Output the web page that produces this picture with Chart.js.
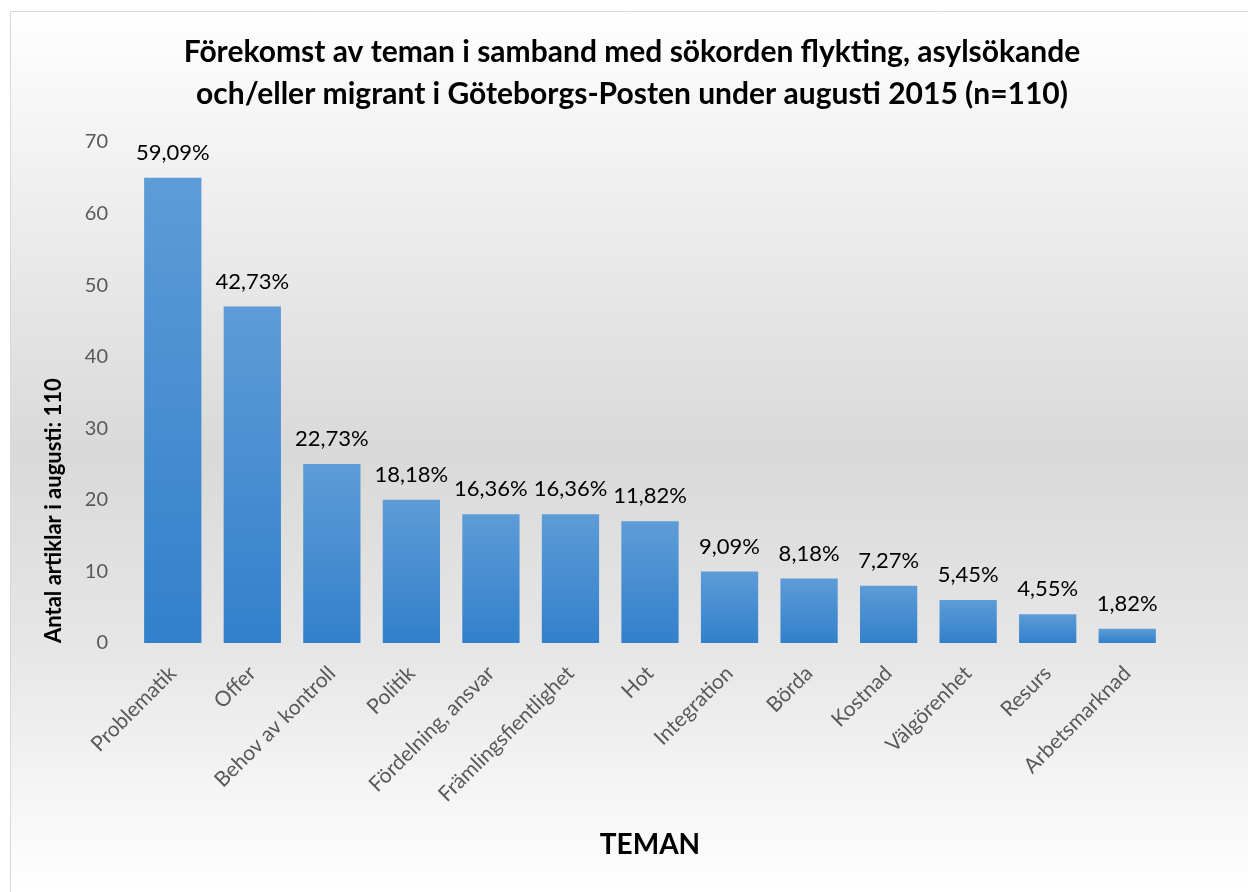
<!DOCTYPE html>
<html>
<head>
<meta charset="utf-8">
<script src="https://cdn.jsdelivr.net/npm/chart.js@4"></script>
<style>
  html, body { margin: 0; padding: 0; background: #fff; }
  #wrap { position: absolute; left: 0; top: 0; width: 1248px; height: 892px; }
</style>
</head>
<body>
<div id="wrap"><canvas id="chart" width="1248" height="892"></canvas></div>
<script>
const categories = ['Problematik', 'Offer', 'Behov av kontroll', 'Politik', 'Fördelning, ansvar',
  'Främlingsfientlighet', 'Hot', 'Integration', 'Börda', 'Kostnad', 'Välgörenhet', 'Resurs', 'Arbetsmarknad'];
const counts = [65, 47, 25, 20, 18, 18, 17, 10, 9, 8, 6, 4, 2];
const percentLabels = ['59,09%', '42,73%', '22,73%', '18,18%', '16,36%', '16,36%', '11,82%',
  '9,09%', '8,18%', '7,27%', '5,45%', '4,55%', '1,82%'];
const yTicks = [0, 10, 20, 30, 40, 50, 60, 70];

const FONT = 'Lato, "Open Sans", sans-serif';

// background gradient + frame
const backdrop = {
  id: 'backdrop',
  beforeDraw(chart) {
    const c = chart.ctx;
    c.save();
    c.fillStyle = '#ffffff';
    c.fillRect(0, 0, chart.width, chart.height);
    const g = c.createLinearGradient(0, 11, 0, 892);
    g.addColorStop(0, '#ffffff');
    g.addColorStop(0.15, '#f3f3f3');
    g.addColorStop(0.5, '#d9d9d9');
    g.addColorStop(0.72, '#e6e6e6');
    g.addColorStop(1, '#ffffff');
    c.fillStyle = g;
    c.fillRect(11, 12, chart.width - 11, chart.height - 12);
    c.strokeStyle = '#d9d9d9';
    c.lineWidth = 1;
    c.beginPath();
    c.moveTo(10.5, chart.height);
    c.lineTo(10.5, 11.5);
    c.lineTo(chart.width, 11.5);
    c.stroke();
    c.restore();
  }
};

// percentage labels above the bars
const barLabels = {
  id: 'barLabels',
  afterDatasetsDraw(chart) {
    const c = chart.ctx;
    const meta = chart.getDatasetMeta(0);
    c.save();
    c.font = '22px ' + FONT;
    c.fillStyle = '#000000';
    c.textAlign = 'center';
    c.textBaseline = 'middle';
    meta.data.forEach((bar, i) => {
      c.fillText(percentLabels[i], bar.x, bar.y - 25);
    });
    c.restore();
  }
};

new Chart(document.getElementById('chart'), {
  type: 'bar',
  data: {
    labels: categories,
    datasets: [{
      data: counts,
      backgroundColor(ctx) {
        const chart = ctx.chart;
        const y = chart.scales.y;
        if (!y || ctx.dataIndex === undefined) return '#4a8fd2';
        const top = y.getPixelForValue(counts[ctx.dataIndex]);
        const bottom = y.getPixelForValue(0);
        if (!isFinite(top) || !isFinite(bottom) || top === bottom) return '#4a8fd2';
        const g = chart.ctx.createLinearGradient(0, top, 0, bottom);
        g.addColorStop(0, '#5d9cd7');
        g.addColorStop(1, '#3280cb');
        return g;
      },
      borderWidth: 0,
      categoryPercentage: 1,
      barPercentage: 0.72
    }]
  },
  options: {
    responsive: false,
    animation: false,
    layout: { padding: { top: 0, right: 0, bottom: 20, left: 16 } },
    plugins: {
      legend: { display: false },
      tooltip: { enabled: false },
      title: {
        display: true,
        text: ['Förekomst av teman i samband med sökorden flykting, asylsökande',
               'och/eller migrant i Göteborgs-Posten under augusti 2015 (n=110)'],
        color: '#000000',
        font: { family: FONT, size: 30, weight: 'bold', lineHeight: 1.4 },
        padding: { top: 31, bottom: 27 }
      }
    },
    scales: {
      x: {
        grid: { display: false, drawTicks: false },
        border: { display: false },
        ticks: {
          color: '#595959',
          font: { family: FONT, size: 21 },
          minRotation: 45,
          maxRotation: 45,
          padding: 18
        },
        title: {
          display: true,
          text: 'TEMAN',
          color: '#000000',
          font: { family: FONT, size: 28, weight: 'bold' },
          padding: { top: 4, bottom: 10 }
        },
        afterFit(scale) { scale.height = 229; }
      },
      y: {
        min: 0,
        max: 70,
        grid: { display: false, drawTicks: false },
        border: { display: false },
        afterBuildTicks(scale) { scale.ticks = yTicks.map(v => ({ value: v })); },
        ticks: {
          color: '#595959',
          font: { family: FONT, size: 20 },
          padding: 25
        },
        title: {
          display: true,
          text: 'Antal artiklar i augusti: 110',
          align: 'start',
          color: '#000000',
          font: { family: FONT, size: 22, weight: 'bold' },
          padding: { top: 25, bottom: 0 }
        },
        afterFit(scale) { scale.width = 117; }
      },
      yRight: {
        position: 'right',
        min: 0,
        max: 70,
        grid: { display: false, drawTicks: false },
        border: { display: false },
        ticks: { display: false },
        afterFit(scale) { scale.width = 81; }
      }
    }
  },
  plugins: [backdrop, barLabels]
});
</script>
</body>
</html>
